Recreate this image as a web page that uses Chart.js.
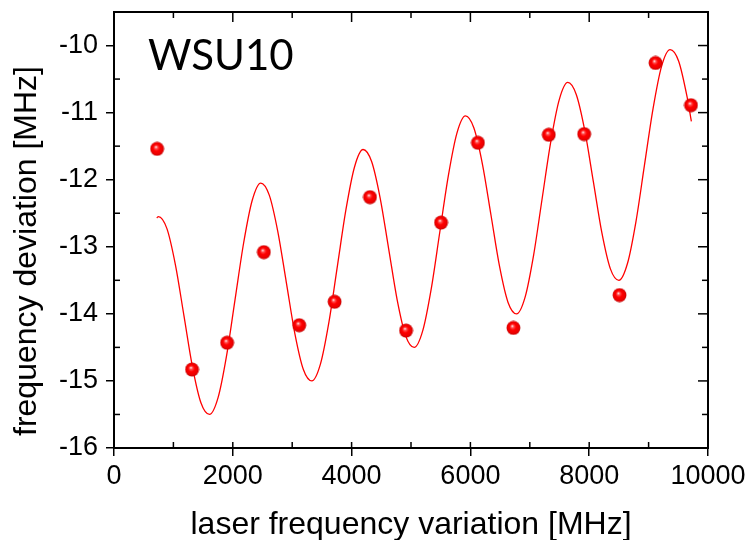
<!DOCTYPE html>
<html>
<head>
<meta charset="utf-8">
<script src="https://cdn.jsdelivr.net/npm/chart.js@4.4.0/dist/chart.umd.min.js"></script>
<style>
  html, body { margin: 0; padding: 0; background: #fff; }
</style>
</head>
<body>
<canvas id="chart" width="748" height="540"></canvas>
<script>
// measured points
const pointX = [725, 1314, 1904, 2523, 3118, 3714, 4309, 4916, 5506, 6126, 6724, 7320, 7915, 8511, 9117, 9713];
const pointY = [-11.54, -14.83, -14.43, -13.08, -14.17, -13.82, -12.26, -14.25, -12.64, -11.45, -14.21, -11.33, -11.32, -13.72, -10.26, -10.89];

// fit curve
const curveX = [720, 747, 891, 1034, 1178, 1321, 1465, 1608, 1752, 1896, 2039, 2183, 2326, 2470, 2614, 2757, 2901,
  3044, 3188, 3331, 3475, 3619, 3762, 3906, 4049, 4193, 4337, 4480, 4624, 4767, 4911, 5054, 5198, 5342, 5485,
  5629, 5772, 5916, 6059, 6203, 6347, 6490, 6634, 6777, 6921, 7065, 7208, 7352, 7495, 7639, 7782, 7926, 8070,
  8213, 8357, 8500, 8644, 8788, 8931, 9075, 9218, 9362, 9505, 9649, 9720];
const curveY = [-12.57, -12.55, -12.73, -13.27, -14.03, -14.79, -15.33, -15.50, -15.25, -14.62, -13.78, -12.94, -12.31, -12.05, -12.23, -12.77, -13.53,
  -14.29, -14.83, -15.00, -14.75, -14.12, -13.28, -12.44, -11.81, -11.55, -11.73, -12.27, -13.03, -13.79, -14.33, -14.50, -14.25, -13.62, -12.78,
  -11.94, -11.31, -11.05, -11.23, -11.77, -12.53, -13.29, -13.83, -14.00, -13.75, -13.12, -12.28, -11.44, -10.81, -10.55, -10.73, -11.27, -12.03,
  -12.79, -13.33, -13.50, -13.25, -12.62, -11.78, -10.94, -10.31, -10.06, -10.23, -10.77, -11.13];

const xMin = 0, xMax = 10000, xStep = 2000, xMinor = 1000;
const yMin = -16, yMax = -9.5, yStep = 1, yMinor = 0.5;
const tagText = 'WSU10';
const yTitle = 'frequency deviation [MHz]';

const ball = document.createElement('canvas');
ball.width = 15; ball.height = 15;
(function () {
  const c = ball.getContext('2d');
  const g = c.createRadialGradient(6.3, 5.6, 0.3, 7.5, 7.5, 7);
  g.addColorStop(0, '#ffe6e6');
  g.addColorStop(0.18, '#ff5050');
  g.addColorStop(0.45, '#ff0000');
  g.addColorStop(0.85, '#e80000');
  g.addColorStop(1, '#b80000');
  c.fillStyle = g;
  c.beginPath();
  c.arc(7.5, 7.5, 6.9, 0, Math.PI * 2);
  c.fill();
})();

const framePlugin = {
  id: 'frame',
  afterDatasetsDraw(chart) {
    const { ctx, chartArea: a, scales: { x, y } } = chart;
    ctx.save();
    ctx.strokeStyle = '#000';
    ctx.lineWidth = 1.5;
    const seg = (x1, y1, x2, y2) => { ctx.beginPath(); ctx.moveTo(x1, y1); ctx.lineTo(x2, y2); ctx.stroke(); };
    for (let v = xMin; v <= xMax; v += xMinor) {
      const px = x.getPixelForValue(v);
      const len = (v % xStep === 0) ? 10 : 6;
      seg(px, a.bottom, px, a.bottom - 6);
      seg(px, a.top, px, a.top + len);
    }
    for (let v = yMin; v <= yMax; v += yMinor) {
      const py = y.getPixelForValue(v);
      const len = (v % yStep === 0) ? 10 : 6;
      if (v % yStep !== 0) seg(a.left, py, a.left + 6, py);
      seg(a.right, py, a.right - len, py);
    }
    ctx.lineWidth = 2;
    ctx.strokeRect(a.left, a.top, a.right - a.left, a.bottom - a.top);
    ctx.fillStyle = '#000';
    ctx.font = '42px Lato';
    ctx.textBaseline = 'alphabetic';
    ctx.fillText(tagText, 148, 70);
    // y axis title, sits a bit below the centre like the original
    ctx.translate(27, 251);
    ctx.rotate(-Math.PI / 2);
    ctx.font = '32px "Liberation Sans"';
    ctx.textAlign = 'center';
    ctx.textBaseline = 'middle';
    ctx.fillText(yTitle, 0, 0);
    ctx.restore();
  }
};

const tickFont = { family: 'Liberation Sans', size: 27 };
const titleFont = { family: 'Liberation Sans', size: 32 };

new Chart(document.getElementById('chart').getContext('2d'), {
  type: 'scatter',
  data: {
    datasets: [
      {
        data: pointX.map((v, i) => ({ x: v, y: pointY[i] })),
        pointStyle: ball,
        pointRadius: 7,
        showLine: false
      },
      {
        data: curveX.map((v, i) => ({ x: v, y: curveY[i] })),
        showLine: true,
        borderColor: '#ff0000',
        borderWidth: 1.3,
        pointRadius: 0,
        cubicInterpolationMode: 'monotone'
      }
    ]
  },
  options: {
    responsive: false,
    animation: false,
    devicePixelRatio: 1,
    layout: { padding: { top: 12, right: 40, left: 0, bottom: 0 } },
    plugins: { legend: { display: false }, tooltip: { enabled: false } },
    scales: {
      x: {
        type: 'linear',
        min: xMin, max: xMax,
        afterFit: s => { s.height = 92; s.paddingLeft = 0; s.paddingRight = 0; },
        border: { display: false },
        grid: { drawOnChartArea: false, tickLength: 8, color: '#000', lineWidth: 1.5 },
        ticks: { stepSize: xStep, color: '#000', font: tickFont, padding: 4, maxRotation: 0, includeBounds: false,
          callback: v => String(v) },
        title: { display: true, text: 'laser frequency variation [MHz]', color: '#000', font: titleFont, padding: { top: 0, bottom: -4 } }
      },
      y: {
        type: 'linear',
        min: yMin, max: yMax,
        afterFit: s => { s.width = 114; s.paddingTop = 0; s.paddingBottom = 0; },
        border: { display: false },
        grid: { drawOnChartArea: false, tickLength: 8, color: '#000', lineWidth: 1.5 },
        ticks: { stepSize: yStep, color: '#000', font: tickFont, padding: 8, includeBounds: false,
          callback: v => String(v) },
        title: { display: false }
      }
    }
  },
  plugins: [framePlugin]
});
</script>
</body>
</html>
